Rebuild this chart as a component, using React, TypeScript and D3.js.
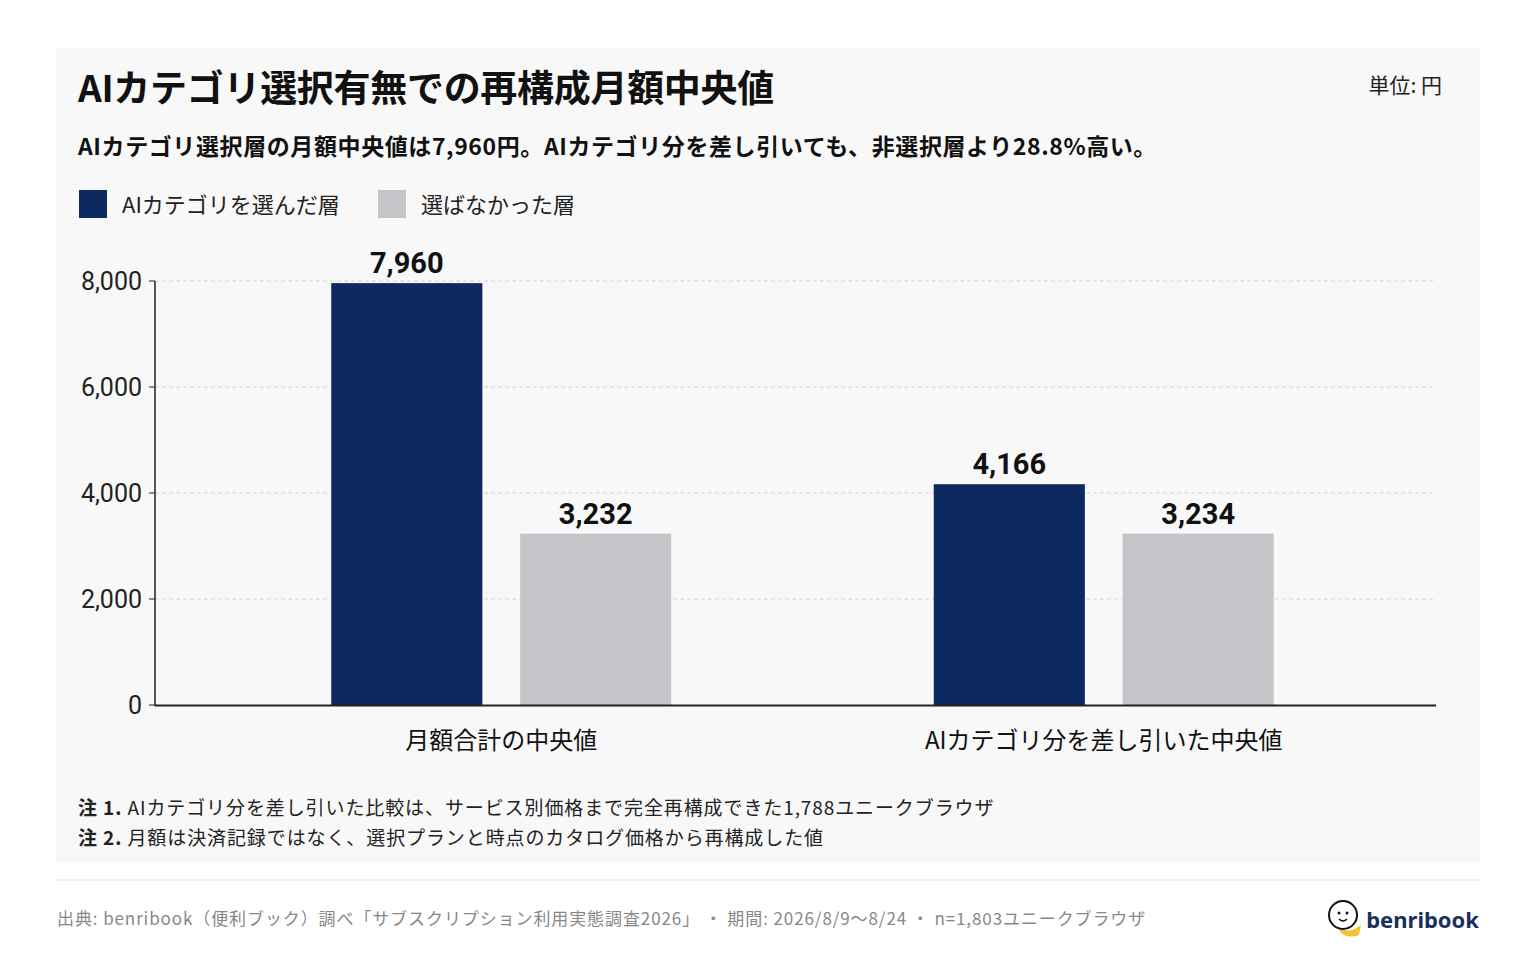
import React from "react";
import * as d3 from "d3";

const categories = ["月額合計の中央値", "AIカテゴリ分を差し引いた中央値"];
const seriesNames = ["AIカテゴリを選んだ層", "選ばなかった層"];
const selectedValues = [7960, 4166];
const notSelectedValues = [3232, 3234];
const yTicks = [0, 2000, 4000, 6000, 8000];
const colors = ["#0c2a5f", "#c4c5c9"];

const FONT = "'Noto Sans CJK JP', 'Noto Sans', sans-serif";

export default function App() {
  const y = d3.scaleLinear().domain([0, 8000]).range([705, 281]);
  const x0 = d3.scaleBand().domain(categories).range([200, 1405]).padding(0);
  const groupW = 340;
  const x1 = d3.scaleBand().domain(seriesNames).range([0, groupW]).paddingInner(0.2);
  const fmt = d3.format(",");
  const data = [selectedValues, notSelectedValues];
  return (
    <svg width={1536} height={960} style={{ position: "absolute", left: 0, top: 0, background: "#fff" }} fontFamily={FONT}>
      <rect x={56} y={48} width={1424} height={815} fill="#f8f8f8" />
      <text x={78} y={102} fontSize={37} fontWeight={700} fill="#111" letterSpacing={-0.3}>AIカテゴリ選択有無での再構成月額中央値</text>
      <text x={1442} y={93} fontSize={21} textAnchor="end" fill="#222">単位: 円</text>
      <text x={78} y={155} fontSize={23} fontWeight={700} fill="#111" letterSpacing={0.6}>AIカテゴリ選択層の月額中央値は7,960円。AIカテゴリ分を差し引いても、非選択層より28.8%高い。</text>
      {seriesNames.map((s, i) => (
        <g key={s} transform={`translate(${i === 0 ? 79 : 378},190)`}>
          <rect width={28} height={28} fill={colors[i]} />
          <text x={43} y={23} fontSize={22} fill="#222">{s}</text>
        </g>
      ))}
      {yTicks.map((t) => (
        <g key={t}>
          {t > 0 && <line x1={155} x2={1436} y1={y(t)} y2={y(t)} stroke="#d6d6d6" strokeDasharray="4 3" />}
          <line x1={149} x2={155} y1={y(t)} y2={y(t)} stroke="#222" />
          <text x={142} y={y(t) + 9} fontSize={25} textAnchor="end" fill="#222" fontFamily="Roboto, sans-serif">{fmt(t)}</text>
        </g>
      ))}
      {categories.map((c, ci) => {
        const gx = x0(c)! + x0.bandwidth() / 2 - groupW / 2;
        return (
          <g key={c}>
            {seriesNames.map((s, si) => {
              const v = data[si][ci];
              const bx = gx + x1(s)!;
              return (
                <g key={s}>
                  <rect x={bx} y={y(v)} width={x1.bandwidth()} height={705 - y(v)} fill={colors[si]} />
                  <text x={bx + x1.bandwidth() / 2} y={y(v) - 10} fontSize={29} fontWeight={700} textAnchor="middle" fill="#111" fontFamily="Roboto, sans-serif">{fmt(v)}</text>
                </g>
              );
            })}
            <text x={x0(c)! + x0.bandwidth() / 2} y={749} fontSize={24} textAnchor="middle" fill="#111">{c}</text>
          </g>
        );
      })}
      <line x1={155} x2={155} y1={281} y2={706} stroke="#222" strokeWidth={1.5} />
      <line x1={155} x2={1436} y1={705.5} y2={705.5} stroke="#222" strokeWidth={2} />
      <text x={78} y={815} fontSize={19} fill="#222" letterSpacing={0.9}><tspan fontWeight={700}>注 1.</tspan> AIカテゴリ分を差し引いた比較は、サービス別価格まで完全再構成できた1,788ユニークブラウザ</text>
      <text x={78} y={845} fontSize={19} fill="#222" letterSpacing={0.9}><tspan fontWeight={700}>注 2.</tspan> 月額は決済記録ではなく、選択プランと時点のカタログ価格から再構成した値</text>
      <line x1={56} x2={1480} y1={880} y2={880} stroke="#e3e6ea" />
      <text x={57} y={925} fontSize={17} fill="#888" letterSpacing={0.9}>出典: benribook（便利ブック）調べ「サブスクリプション利用実態調査2026」 ・ 期間: 2026/8/9〜8/24 ・ n=1,803ユニークブラウザ</text>
      <g transform="translate(1343,915)">
        <path d="M-6,12 Q6,20 18,10 L16,20 Q6,24 -2,18 Z" fill="#f2c230" />
        <circle r={14} fill="#fff" stroke="#111" strokeWidth={2} />
        <circle cx={-4} cy={-2} r={1.5} fill="#111" />
        <circle cx={4} cy={-2} r={1.5} fill="#111" />
        <path d="M-4,4 Q0,8 4,4" stroke="#111" fill="none" strokeWidth={1.5} />
      </g>
      <text x={1479} y={928} fontSize={22} fontWeight={700} textAnchor="end" fill="#1b2f5a" fontFamily="'Noto Sans', sans-serif">benribook</text>
    </svg>
  );
}
